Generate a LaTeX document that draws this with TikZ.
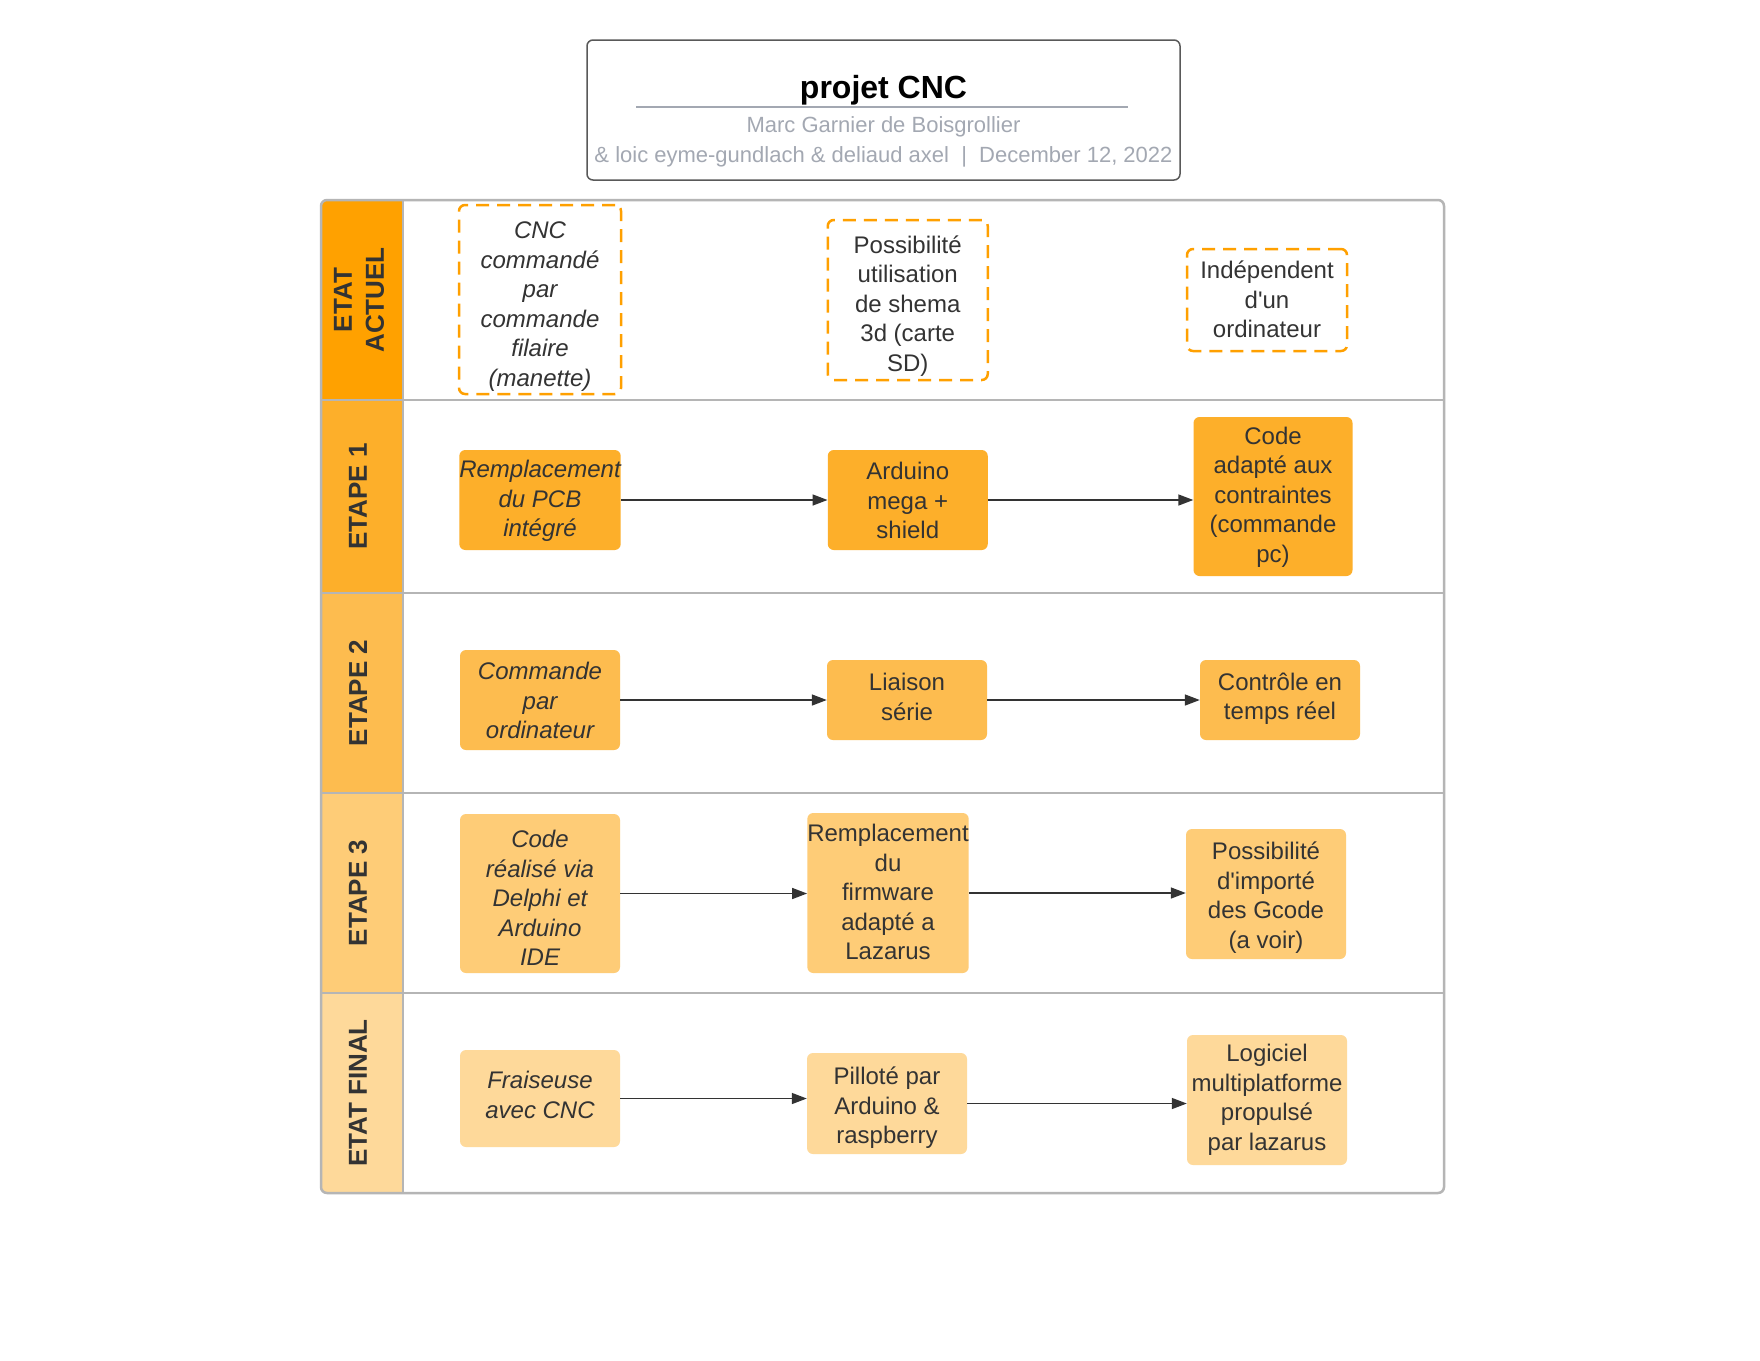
\documentclass[tikz,border=0pt]{standalone}
\usepackage{fontspec}
\setmainfont{Liberation Sans}[Ligatures=TeXOff]
\usetikzlibrary{arrows.meta}
\definecolor{txt}{HTML}{333333}
\definecolor{gridc}{HTML}{B5B5B5}
\definecolor{dorange}{HTML}{FFA000}
\definecolor{rowA}{HTML}{FFA100}
\definecolor{rowB}{HTML}{FDAF2A}
\definecolor{rowC}{HTML}{FDBC4F}
\definecolor{rowD}{HTML}{FECC77}
\definecolor{rowE}{HTML}{FED99A}
\definecolor{subc}{HTML}{A3A8B2}
\definecolor{arrc}{HTML}{333333}
\newcommand\bxfont{\fontsize{24}{29.5}\selectfont}
\newcommand\hdfont{\fontsize{26}{32}\selectfont\bfseries}
% shifted multi-line text: #1 vertical offset, #2 lines
\newcommand\sh[2]{\raisebox{#1}[\height][\depth]{\begin{tabular}{@{}c@{}}#2\end{tabular}}}
\begin{document}
\begin{tikzpicture}[x=1pt,y=-1pt,
  box/.style={rectangle, rounded corners=6pt, inner sep=0pt, text=txt, font=\bxfont},
  dbox/.style={box, draw=dorange, line width=2.5pt, dash pattern=on 13pt off 8pt, fill=white},
  arr/.style={-{Triangle[length=15pt,width=11pt]}, draw=arrc, line width=1.5pt},
  hdr/.style={rotate=90, font=\hdfont, text=txt, align=center, inner sep=0pt},
  grid/.style={draw=gridc, line width=2.5pt}]
\useasboundingbox (0,0) rectangle (1760,1360);
\fill[white] (0,0) rectangle (1760,1360);

% title block
\node[draw=black!65, line width=1.5pt, rounded corners=6pt, minimum width=593pt, minimum height=140pt, inner sep=0pt] (titlebox) at (883.5,110) {};
\node[anchor=base, font=\fontsize{32}{36}\selectfont\bfseries, text=black] (title) at (883.5,98) {projet CNC};
\coordinate (ulA) at (636,107);
\coordinate (ulB) at (1128,107);
\draw[subc, line width=2pt] (ulA) -- (ulB);
\node[anchor=base, font=\fontsize{22}{26}\selectfont, text=subc] (sub1) at (883.5,132) {Marc Garnier de Boisgrollier};
\node[anchor=base, font=\fontsize{22}{26}\selectfont, text=subc] (sub2) at (883.5,162) {\& loic eyme-gundlach \& deliaud axel\ \ |\ \ December 12, 2022};

% table fills
\begin{scope}
  \clip[rounded corners=6pt] (321,200) rectangle (1444,1193);
  \fill[rowA] (321,200) rectangle (403,400);
  \fill[rowB] (321,400) rectangle (403,593);
  \fill[rowC] (321,593) rectangle (403,793);
  \fill[rowD] (321,793) rectangle (403,993);
  \fill[rowE] (321,993) rectangle (403,1193);
\end{scope}
\draw[grid] (321,400) -- (1444,400);
\draw[grid] (321,593) -- (1444,593);
\draw[grid] (321,793) -- (1444,793);
\draw[grid] (321,993) -- (1444,993);
\draw[grid] (403,200) -- (403,1193);
\draw[grid, rounded corners=6pt] (321,200) rectangle (1444,1193);

% row headers
\node[hdr] (h0) at (359,300) {ETAT\\ACTUEL};
\node[hdr] (h1) at (358,496.5) {ETAPE 1};
\node[hdr] (h2) at (358,693) {ETAPE 2};
\node[hdr] (h3) at (358,893) {ETAPE 3};
\node[hdr] (h4) at (358,1093) {ETAT FINAL};

% row 0
\node[dbox, minimum width=162pt, minimum height=189pt] (a1) at (540,299.5) {\sh{-7.3pt}{\itshape CNC\\\itshape command\'e\\\itshape par\\\itshape commande\\\itshape filaire\\\itshape (manette)}};
\node[dbox, minimum width=160pt, minimum height=160pt] (a2) at (907.75,300) {\sh{-6.1pt}{Possibilit\'e\\utilisation\\de shema\\3d (carte\\SD)}};
\node[dbox, minimum width=160pt, minimum height=102pt] (a3) at (1267,300) {\sh{-2.3pt}{Ind\'ependent\\d'un\\ordinateur}};

% row 1
\node[box, fill=rowB, minimum width=160pt, minimum height=100pt] (b1) at (540,500) {\sh{-1.5pt}{\itshape Remplacement\\\itshape du PCB\\\itshape int\'egr\'e}};
\node[box, fill=rowB, minimum width=160pt, minimum height=100pt] (b2) at (907.75,500) {\sh{-3.4pt}{Arduino\\mega +\\shield}};
\node[box, fill=rowB, minimum width=159pt, minimum height=159pt] (b3) at (1273,496.5) {\sh{-0.9pt}{Code\\adapt\'e aux\\contraintes\\(commande\\pc)}};
\draw[arr] (b1.east) -- (b1.east -| b2.west);
\draw[arr] (b2.east) -- (b2.east -| b3.west);

% row 2
\node[box, fill=rowC, minimum width=160pt, minimum height=100pt] (c1) at (540,700) {\sh{-3.1pt}{\itshape Commande\\\itshape par\\\itshape ordinateur}};
\node[box, fill=rowC, minimum width=160pt, minimum height=80pt] (c2) at (907,700) {\sh{0.5pt}{Liaison\\s\'erie}};
\node[box, fill=rowC, minimum width=160pt, minimum height=80pt] (c3) at (1280,700) {\sh{1.1pt}{Contr\^ole en\\temps r\'eel}};
\draw[arr] (c1.east) -- (c1.east -| c2.west);
\draw[arr] (c2.east) -- (c2.east -| c3.west);

% row 3
\node[box, fill=rowD, minimum width=160pt, minimum height=159pt] (d1) at (540,893.5) {\sh{-7.1pt}{\itshape Code\\\itshape r\'ealis\'e via\\\itshape Delphi et\\\itshape Arduino\\\itshape IDE}};
\node[box, fill=rowD, minimum width=158pt, minimum height=160pt] (d2) at (888,893) {\sh{-1.6pt}{Remplacement\\du\\firmware\\adapt\'e a\\Lazarus}};
\node[box, fill=rowD, minimum width=160pt, minimum height=130pt] (d3) at (1266,894) {\sh{-4.2pt}{Possibilit\'e\\d'import\'e\\des Gcode\\(a voir)}};
\draw[arr] (d1.east) -- (d1.east -| d2.west);
\draw[arr] (d2.east) -- (d2.east -| d3.west);

% row 4
\node[box, fill=rowE, minimum width=160pt, minimum height=97pt] (e1) at (540,1098.5) {\sh{1.1pt}{\itshape Fraiseuse\\\itshape avec CNC}};
\node[box, fill=rowE, minimum width=160pt, minimum height=101pt] (e2) at (887,1103.5) {\sh{-4.7pt}{Pillot\'e par\\Arduino \&\\raspberry}};
\node[box, fill=rowE, minimum width=160pt, minimum height=130pt] (e3) at (1267,1100) {\sh{-0.3pt}{Logiciel\\multiplatforme\\propuls\'e\\par lazarus}};
\draw[arr] (e1.east) -- (e1.east -| e2.west);
\draw[arr] (e2.east) -- (e2.east -| e3.west);
\end{tikzpicture}
\end{document}
